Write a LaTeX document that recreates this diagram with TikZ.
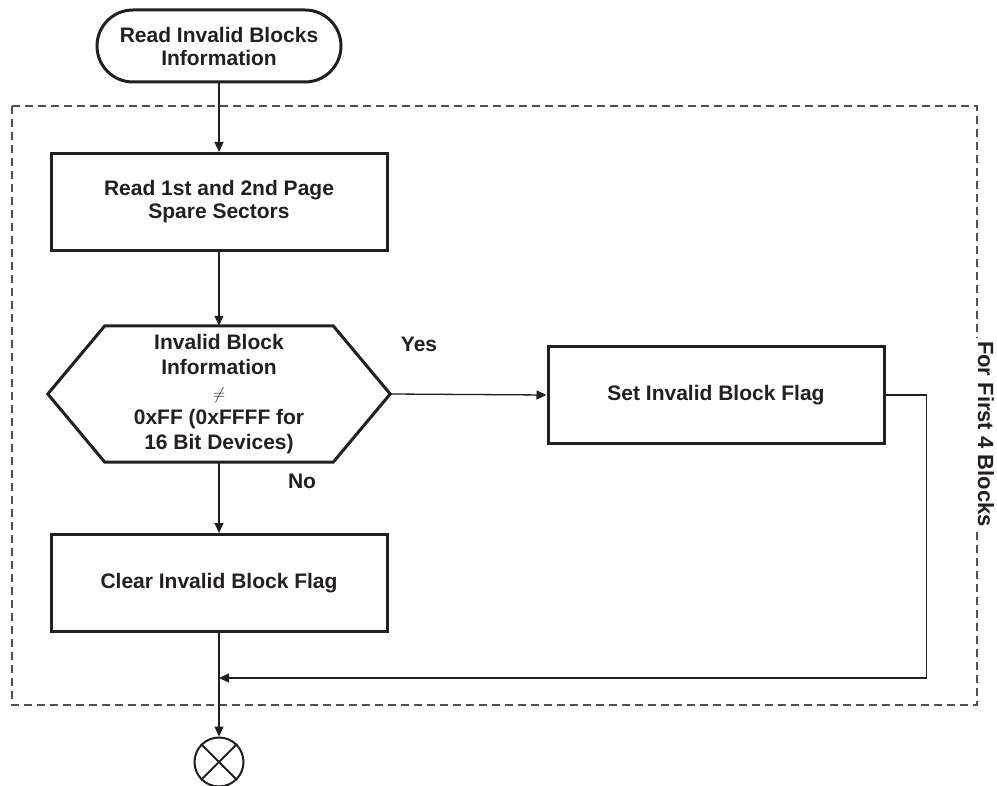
\documentclass[tikz,border=0pt]{standalone}
\usepackage{fontspec}
\setmainfont{Liberation Sans}
\usetikzlibrary{positioning,arrows.meta,calc}
\definecolor{cink}{HTML}{231f20}
\definecolor{cdash}{HTML}{505052}

\begin{document}
\begin{tikzpicture}[x=1pt, y=-1pt,
    every node/.style={font=\bfseries\fontsize{21}{23}\selectfont, text=cink, align=center},
    term/.style={draw=cink, line width=3pt, rounded corners=36pt, minimum width=244pt, minimum height=72pt, inner sep=0pt},
    proc/.style={draw=cink, line width=3pt, minimum width=336pt, minimum height=97pt, inner sep=0pt},
    flow/.style={draw=cink, line width=1.3pt, -{Triangle[length=10pt,width=9pt]}}]
  \useasboundingbox (0,0) rectangle (997,786);
  % loop frame, labelled on its right edge
  \draw[cdash, line width=1.1pt, dash pattern=on 8pt off 5pt] (12,106) rectangle (977,705);
  \node[fill=white, rotate=-90, inner sep=3pt, font=\bfseries\fontsize{22}{24}\selectfont] (loop) at (986,434) {For First 4 Blocks};
  % main column
  \node[term] (start) at (219,46) {Read Invalid Blocks\\Information};
  \node[proc] (read) at (219,202) {Read 1st and 2nd Page\\Spare Sectors};
  \node[minimum width=342pt, minimum height=136pt, inner sep=0pt, font=\bfseries\fontsize{21}{25}\selectfont] (dec) at (219,394)
    {Invalid Block\\Information\\{\normalfont\fontsize{18}{25}\selectfont$\neq$}\\0xFF (0xFFFF for\\16 Bit Devices)};
  \draw[cink, line width=3pt, line join=miter] ($(dec.north west)+(57,0)$) -- ($(dec.north east)+(-57,0)$) -- (dec.east)
    -- ($(dec.south east)+(-57,0)$) -- ($(dec.south west)+(57,0)$) -- (dec.west) -- cycle;
  \node[proc] (clear) at (219,583) {Clear Invalid Block Flag};
  \node[draw=cink, line width=2pt, circle, minimum size=49pt, inner sep=0pt] (stop) at (219,762) {};
  \draw[cink, line width=2pt] (stop.north west) -- (stop.south east) (stop.south west) -- (stop.north east);
  % branch
  \node[proc] (setf) at (716,395) {Set Invalid Block Flag};
  \node (yes) at (419,344) {Yes};
  \node (no) at (302,481) {No};
  \coordinate (join) at (219,678);
  % connectors
  \draw[flow] (start) -- (read);
  \draw[flow] (read) -- (dec.north);
  \draw[flow] (dec.east) -- (setf.west);
  \draw[flow] (dec.south) -- (clear);
  \draw[flow] (setf.east) -- ++(41,0) |- (join);
  \draw[flow] (clear) -- (stop);
\end{tikzpicture}
\end{document}
